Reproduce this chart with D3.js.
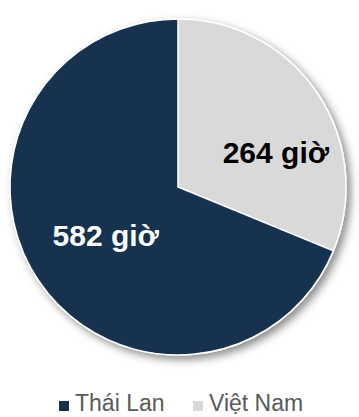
<!DOCTYPE html>
<html><head><meta charset="utf-8">
<script src="https://cdn.jsdelivr.net/npm/d3@7"></script>
<style>body{margin:0;background:#fff}svg{display:block}</style>
</head><body>
<script>
const categories = ["Việt Nam", "Thái Lan"];
const values = [264, 582];
const labels = ["264 giờ", "582 giờ"];
const colors = ["#d9d9d9", "#17324f"];
const labelColors = ["#000000", "#ffffff"];
const legendOrder = ["Thái Lan", "Việt Nam"];

const W = 359, H = 417;
const cx = 178, cy = 187, r = 168;
const svg = d3.select("body").append("svg").attr("width", W).attr("height", H);
const defs = svg.append("defs");
const f = defs.append("filter").attr("id","sh").attr("x","-20%").attr("y","-20%").attr("width","140%").attr("height","140%");
f.append("feDropShadow").attr("dx",4).attr("dy",4).attr("stdDeviation",4).attr("flood-color","#000").attr("flood-opacity",0.45);

const data = categories.map((c,i)=>({c, v: values[i], i}));
const pie = d3.pie().value(d=>d.v).sort(null);
const arc = d3.arc().innerRadius(0).outerRadius(r);
const g = svg.append("g").attr("transform",`translate(${cx},${cy})`);
const arcs = pie(data);
g.append("g").attr("filter","url(#sh)").selectAll("path").data(arcs).enter().append("path")
  .attr("d", arc).attr("fill", d=>colors[d.data.i]).attr("stroke","#fff").attr("stroke-width",1.5);

// label placement: radial distance and angular tweak (layout only)
const labelPos = [{rad: 104, da: 0.245}, {rad: 87, da: 0}];
g.selectAll("text.lbl").data(arcs).enter().append("text")
  .attr("class","lbl")
  .attr("transform", d=>{
    const p = labelPos[d.data.i];
    const a = (d.startAngle + d.endAngle)/2 + p.da;
    return `translate(${Math.sin(a)*p.rad},${-Math.cos(a)*p.rad})`;
  })
  .attr("text-anchor","middle").attr("dy","0.36em")
  .attr("font-family","'Liberation Sans', Arial, sans-serif").attr("font-weight","bold").attr("font-size",30)
  .attr("fill", d=>labelColors[d.data.i])
  .text(d=>labels[d.data.i]);

const lg = svg.append("g");
const legX = [59, 193];
legendOrder.forEach((name,k)=>{
  const i = categories.indexOf(name);
  lg.append("rect").attr("x",legX[k]).attr("y",401).attr("width",10).attr("height",10).attr("fill",colors[i]);
  lg.append("text").attr("x",legX[k]+16).attr("y",411).attr("font-family","'Liberation Sans', Arial, sans-serif")
    .attr("font-size",23).attr("fill","#595959").text(name);
});
</script>
</body></html>
